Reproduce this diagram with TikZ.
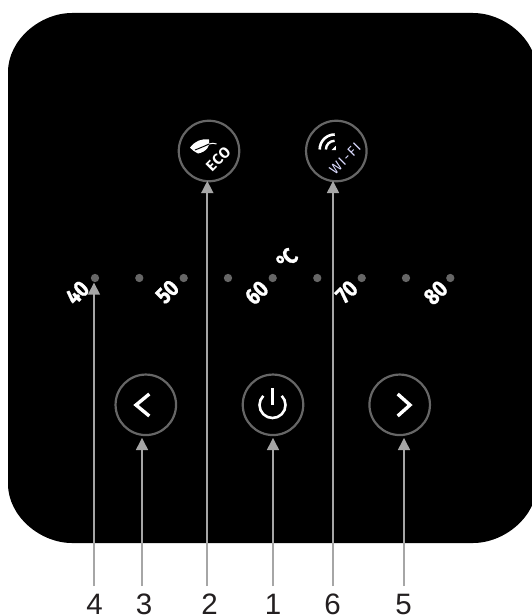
\documentclass[tikz,border=0pt]{standalone}
\usepackage{fontspec}
\setmainfont{Liberation Sans}
\newfontfamily\panelfont[FakeStretch=0.84,FakeBold=1.2]{Fira Sans}
\newfontfamily\ecofont{Fira Sans}
\definecolor{ring}{HTML}{666666}
\definecolor{lead}{HTML}{A6A6A6}
\definecolor{dotc}{HTML}{666666}
\definecolor{numc}{HTML}{231F20}
\definecolor{wific}{HTML}{DCDCFF}
\usetikzlibrary{calc}
\tikzset{
  ringbtn/.style={circle,draw=ring,line width=2.2pt,minimum size=60.5pt,inner sep=0pt,fill=black},
  led/.style={circle,fill=dotc,inner sep=0pt,minimum size=8.3pt},
  numlab/.style={font=\fontsize{29.5}{30}\selectfont,text=numc,inner sep=0pt,anchor=base},
  temp/.style={font=\panelfont\bfseries\fontsize{23}{23}\selectfont,text=white,rotate=45,inner sep=0pt},
  leadline/.style={draw=lead,line width=2.3pt},
  leadtip/.style={fill=lead,draw=none},
  sym/.style={draw=white,line width=3.4pt}
}
\newcommand{\leadarrow}[2]{%
  \draw[leadline] (#1) -- ($(#2)+(0,6)$);
  \fill[leadtip] (#2) -- ++(-6.2,12) -- ++(12.4,0) -- cycle;}
\begin{document}
\begin{tikzpicture}[x=1pt,y=-1pt]
\useasboundingbox (0,0) rectangle (532,615);
\fill[white] (0,0) rectangle (532,615);
\begin{scope}
\clip (0,0) rectangle (532,615);
\fill[black] (8,72) .. controls (8,40) and (40,13) .. (72,13) -- (473,13)
  .. controls (505,13) and (537,40) .. (537,72) -- (537,484)
  .. controls (537,516) and (505,543) .. (473,543) -- (72,543)
  .. controls (40,543) and (8,516) .. (8,484) -- cycle;
\end{scope}
\node[ringbtn] (eco) at (209,151) {};
\node[ringbtn] (wifi) at (336.3,151) {};
\node[ringbtn] (left) at (145.8,404.8) {};
\node[ringbtn] (power) at (273,404.8) {};
\node[ringbtn] (right) at (399.7,404.8) {};
% ECO leaf
\fill[white] (190,147.7) .. controls (195,141) and (201,138.5) .. (209,139.5)
  .. controls (211,146) and (206,152) .. (198,153.5) .. controls (195,152) and (192,150) .. (190,147.7) -- cycle;
\draw[black,line width=1pt] (195,150) .. controls (200,148) and (205,146) .. (209,144);
\draw[white,line width=1pt] (209,144) .. controls (212,143) and (214,143) .. (216.5,144);
\node[temp,font=\ecofont\bfseries\fontsize{15}{15}\selectfont] (ecot) at (218.3,159.3) {\addfontfeature{LetterSpace=4}ECO};
% WI-FI
\draw[white,line width=2.6pt] (wifi.center) ++(-16.6,-1.5) arc[start angle=180,end angle=270,radius=15];
\draw[white,line width=2.4pt] (wifi.center) ++(-10.4,-1.5) arc[start angle=180,end angle=270,radius=8.7];
\fill[white] (335.8,145.8) -- (335.8,150) -- (331.6,150) -- cycle;
\node[font=\ecofont\fontsize{14}{14}\selectfont,text=wific,rotate=45,inner sep=0pt] (wifit) at (345,159) {\addfontfeature{LetterSpace=10}WI-FI};
% symbols
\draw[sym,miter limit=10] (149.3,394) -- (136,405) -- (149.3,416);
\draw[sym,miter limit=10] (397.7,394) -- (410,405) -- (397.7,416);
\draw[sym,line width=2.6pt] (272.5,388) -- (272.5,405);
\draw[sym,line width=2.6pt] (272.5,405) ++(225:13) arc[start angle=225,end angle=-45,radius=13];
% leds
\foreach \n/\x in {a/95,b/139.3,c/183.7,d/228,e/272.7,f/317.3,g/361.7,h/406,i/450.3}
  \node[led] (led\n) at (\x,278) {};
% temperatures
\node[temp] (t40) at (77.3,292.7) {40};
\node[temp] (t50) at (167.3,291.7) {50};
\node[temp] (t60) at (256.7,292.7) {60};
\node[temp] (t70) at (346.7,291.7) {70};
\node[temp] (t80) at (435.7,292.7) {80};
\node[temp] (deg) at (287,259) {°\kern-2.5ptC};
% leaders
\coordinate (a4) at (94,282.7);
\coordinate (a3) at (142,438);
\coordinate (a2) at (207.3,181);
\coordinate (a1) at (273,438);
\coordinate (a6) at (333,181);
\coordinate (a5) at (404,438);
\coordinate (b4) at (94,586);
\coordinate (b3) at (142,586);
\coordinate (b2) at (207.3,586);
\coordinate (b1) at (273,586);
\coordinate (b6) at (333,586);
\coordinate (b5) at (404,586);
\leadarrow{b4}{a4}
\leadarrow{b3}{a3}
\leadarrow{b2}{a2}
\leadarrow{b1}{a1}
\leadarrow{b6}{a6}
\leadarrow{b5}{a5}
\node[numlab] (n4) at (94.5,614) {4};
\node[numlab] (n3) at (144,614) {3};
\node[numlab] (n2) at (209.5,614) {2};
\node[numlab] (n1) at (273,614) {1};
\node[numlab] (n6) at (332.5,614) {6};
\node[numlab] (n5) at (403.5,614) {5};
\end{tikzpicture}
\end{document}
